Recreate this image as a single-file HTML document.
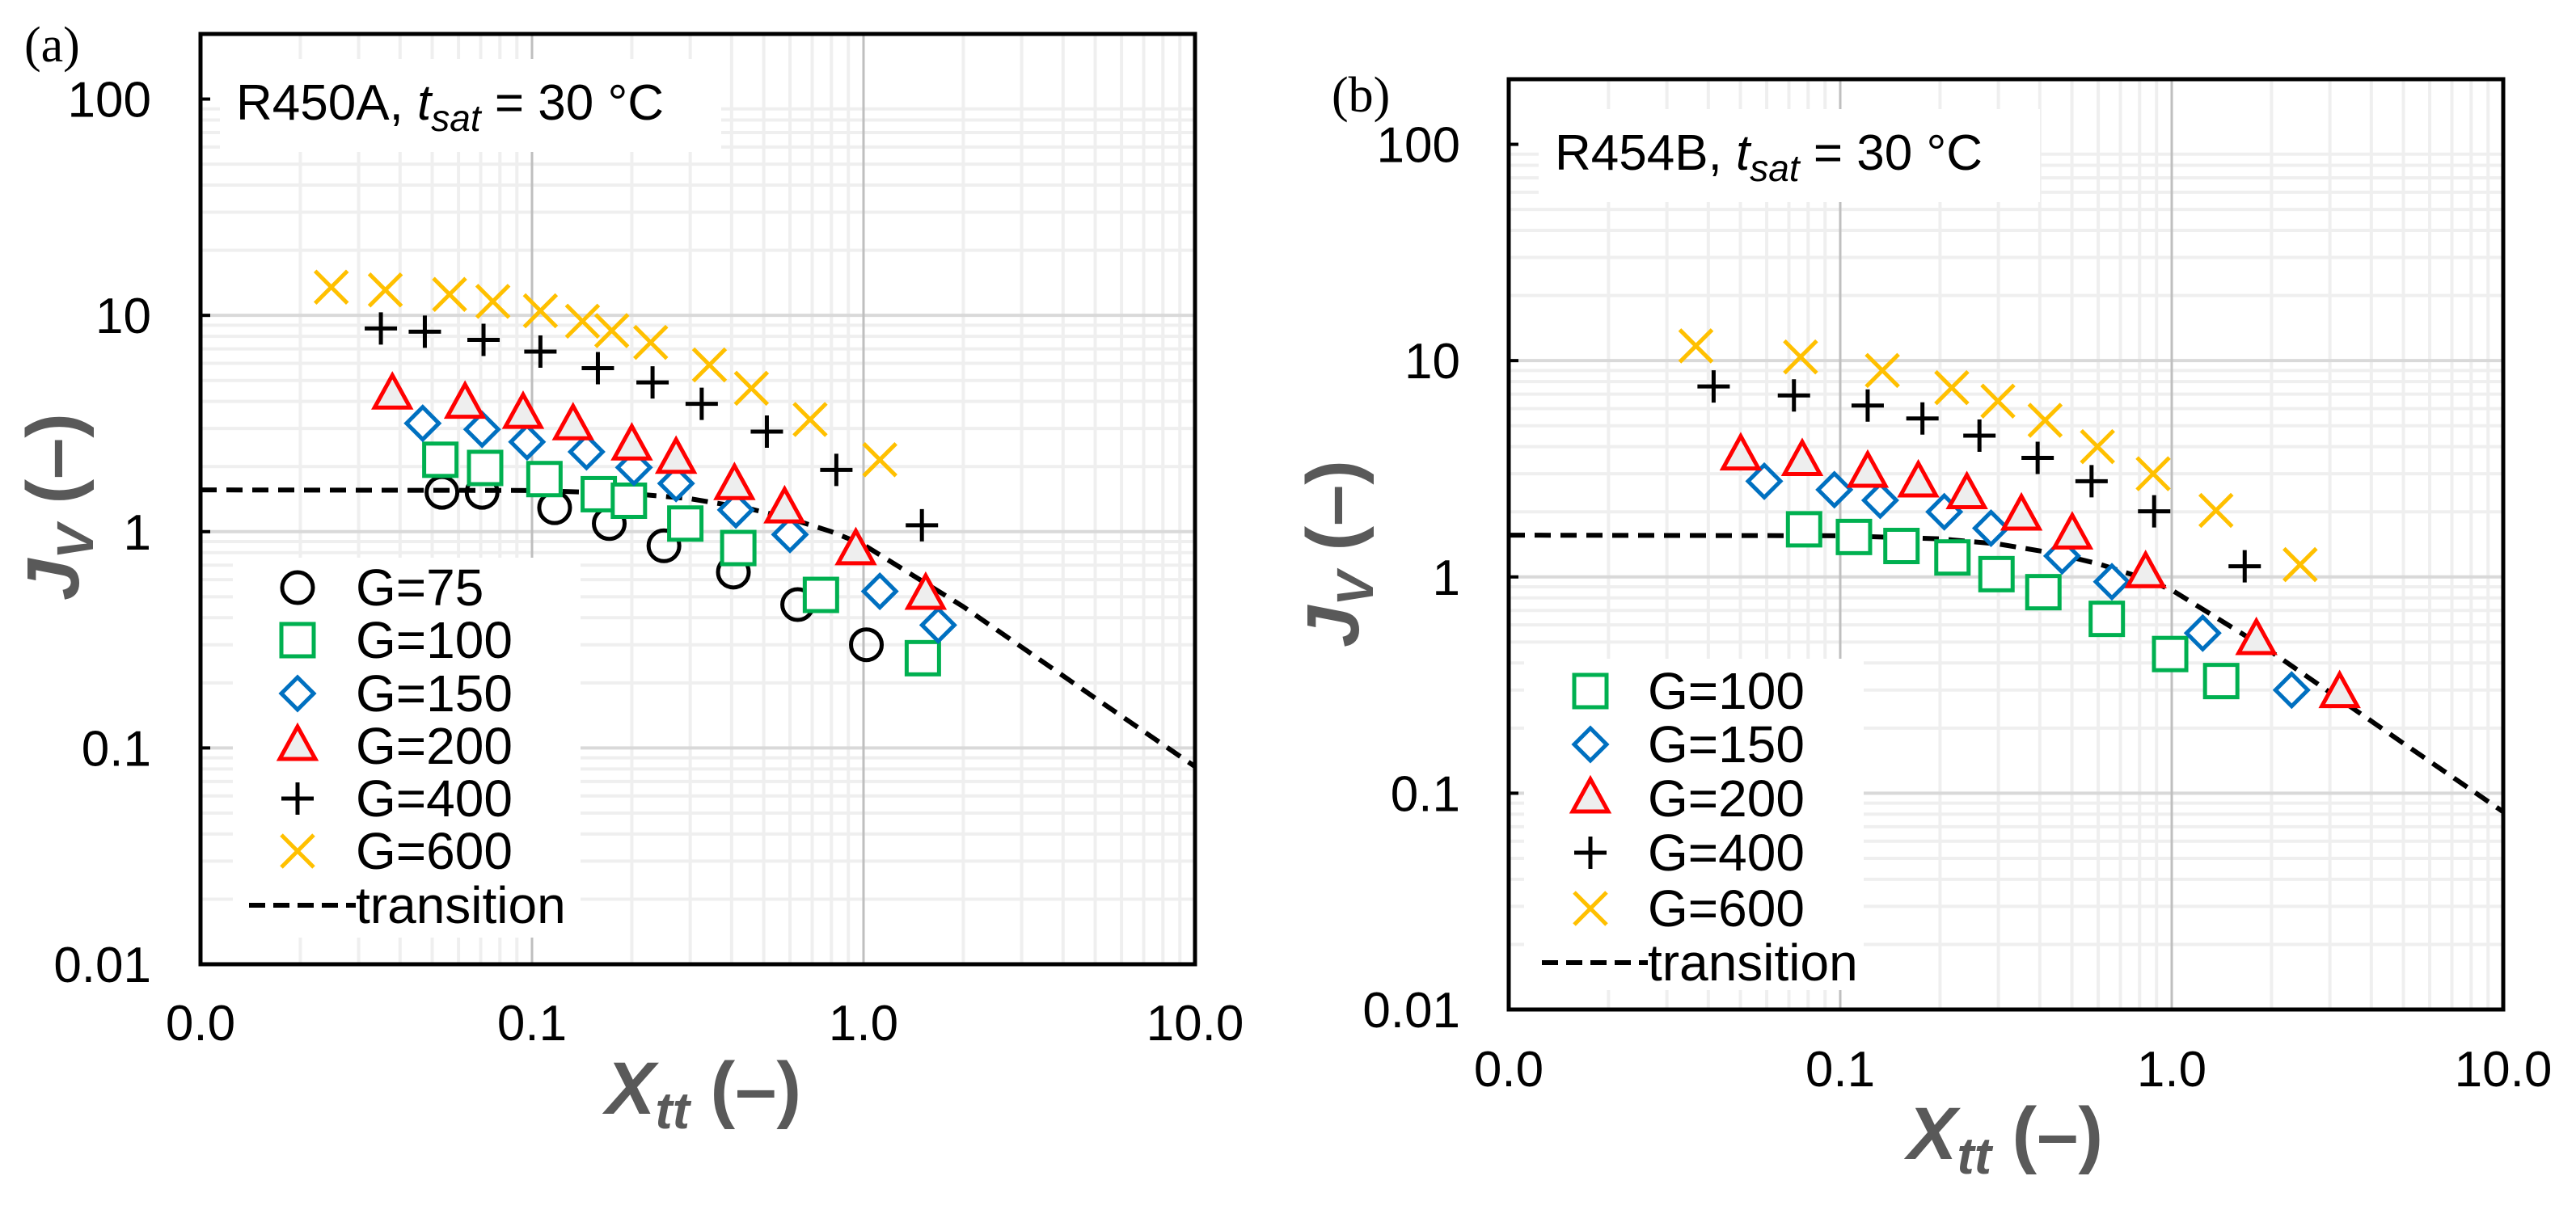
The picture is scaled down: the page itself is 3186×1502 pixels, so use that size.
<!DOCTYPE html>
<html><head><meta charset="utf-8"><style>
html,body{margin:0;padding:0;background:#fff;}
svg{display:block;font-family:"Liberation Sans",Arial,sans-serif;}
</style></head><body>
<svg id="fig" width="3186" height="1502" viewBox="0 0 3186 1502" xmlns="http://www.w3.org/2000/svg"></svg>
<script>
// ---------- data (Xtt, Jv) ----------
const a_G75_x  = [0.0535,0.0707,0.117,0.171,0.250,0.405,0.633,1.02];
const a_G75_y  = [1.52,1.52,1.29,1.09,0.86,0.65,0.46,0.30];
const a_G100_x = [0.0529,0.0722,0.109,0.159,0.196,0.290,0.419,0.744,1.51];
const a_G100_y = [2.15,1.97,1.75,1.49,1.39,1.09,0.84,0.51,0.26];
const a_G150_x = [0.0468,0.0707,0.0966,0.146,0.203,0.272,0.412,0.600,1.12,1.68];
const a_G150_y = [3.17,2.97,2.6,2.34,1.98,1.67,1.26,0.97,0.53,0.37];
const a_G200_x = [0.0379,0.0628,0.094,0.133,0.200,0.272,0.408,0.578,0.948,1.54];
const a_G200_y = [4.3,3.9,3.5,3.1,2.5,2.17,1.64,1.28,0.82,0.51];
const a_G400_x = [0.0350,0.0475,0.0714,0.106,0.158,0.231,0.325,0.511,0.828,1.50];
const a_G400_y = [8.7,8.4,7.7,6.8,5.7,4.9,3.9,2.9,1.93,1.07];
const a_G600_x = [0.0248,0.0361,0.0564,0.0762,0.106,0.142,0.174,0.228,0.343,0.459,0.690,1.12];
const a_G600_y = [13.5,13.1,12.5,11.6,10.5,9.4,8.5,7.5,5.9,4.6,3.3,2.15];

const b_G100_x = [0.0778,0.110,0.153,0.218,0.296,0.410,0.637,0.989,1.41];
const b_G100_y = [1.66,1.53,1.39,1.23,1.03,0.85,0.64,0.44,0.33];
const b_G150_x = [0.059,0.096,0.132,0.206,0.285,0.467,0.660,1.24,2.30];
const b_G150_y = [2.77,2.53,2.26,2.0,1.68,1.25,0.95,0.55,0.30];
const b_G200_x = [0.0501,0.0768,0.121,0.172,0.241,0.352,0.501,0.834,1.80,3.21];
const b_G200_y = [3.64,3.43,3.03,2.73,2.41,1.92,1.57,1.04,0.51,0.29];
const b_G400_x = [0.0415,0.0725,0.121,0.177,0.263,0.394,0.573,0.885,1.66];
const b_G400_y = [7.6,6.9,6.2,5.4,4.5,3.55,2.77,2.01,1.12];
const b_G600_x = [0.0367,0.0759,0.134,0.217,0.299,0.415,0.597,0.879,1.36,2.44];
const b_G600_y = [11.7,10.4,9.0,7.5,6.5,5.3,4.0,3.0,2.03,1.14];

const trans_x = [0.01,0.1,0.2,0.3,0.45,0.6,0.8,1.0,2.0,5.0,10.0];
const trans_y = [1.56,1.55,1.50,1.42,1.28,1.15,1.0,0.87,0.45,0.17,0.082];

const xTickVals = [0.01,0.1,1,10];
const xTickLabels = ["0.0","0.1","1.0","10.0"];
const yTickVals = [100,10,1,0.1,0.01];
const yTickLabels = ["100","10","1","0.1","0.01"];

// ---------- drawing ----------
const NS="http://www.w3.org/2000/svg";
const svg=document.getElementById('fig');
function mk(tag,attrs,parent){const e=document.createElementNS(NS,tag);for(const k in attrs)e.setAttribute(k,attrs[k]);(parent||svg).appendChild(e);return e;}

const panels=[
 {id:'a',L:248,R:1478,T:42,B:1193,label:'(a)',lx:30,ly:76,title:'R450A, ',tx:292,ty:148,
  series:[['G=75','circle',a_G75_x,a_G75_y],['G=100','square',a_G100_x,a_G100_y],['G=150','diamond',a_G150_x,a_G150_y],['G=200','triangle',a_G200_x,a_G200_y],['G=400','plus',a_G400_x,a_G400_y],['G=600','cross',a_G600_x,a_G600_y]],
  leg:{x0:288,y0:690,w:430,h:470,mx:368,tx:440,rows:[727,792,858,923,988,1053],ty:1120},
  ytx:187, xty:1287, xtitle:[870,1378], ytitle:[67,627]},
 {id:'b',L:1866,R:3096,T:98,B:1249,label:'(b)',lx:1647,ly:138,title:'R454B, ',tx:1923,ty:210,
  series:[['G=100','square',b_G100_x,b_G100_y],['G=150','diamond',b_G150_x,b_G150_y],['G=200','triangle',b_G200_x,b_G200_y],['G=400','plus',b_G400_x,b_G400_y],['G=600','cross',b_G600_x,b_G600_y]],
  leg:{x0:1885,y0:815,w:420,h:410,mx:1967,tx:2038,rows:[855,921,988,1055,1124],ty:1191},
  ytx:1806, xty:1344, xtitle:[2480,1434], ytitle:[1650,685]}
];

function marker(g,type,cx,cy){
  const s=20;
  if(type==='circle') return mk('circle',{cx,cy,r:19,fill:'none',stroke:'#000','stroke-width':5},g);
  if(type==='square') return mk('rect',{x:cx-s,y:cy-s,width:2*s,height:2*s,fill:'#fff',stroke:'#00b050','stroke-width':5},g);
  if(type==='diamond') return mk('path',{d:`M${cx} ${cy-20}L${cx+20} ${cy}L${cx} ${cy+20}L${cx-20} ${cy}Z`,fill:'#fff',stroke:'#0070c0','stroke-width':5},g);
  if(type==='triangle') return mk('path',{d:`M${cx} ${cy-24}L${cx+22} ${cy+16}L${cx-22} ${cy+16}Z`,fill:'#eeeeee',stroke:'#ff0000','stroke-width':5},g);
  if(type==='plus') return mk('path',{d:`M${cx-20} ${cy}H${cx+20}M${cx} ${cy-20}V${cy+20}`,fill:'none',stroke:'#000','stroke-width':5},g);
  return mk('path',{d:`M${cx-20} ${cy-20}L${cx+20} ${cy+20}M${cx+20} ${cy-20}L${cx-20} ${cy+20}`,fill:'none',stroke:'#ffc000','stroke-width':5},g);
}

panels.forEach(p=>{
  const xs=v=>p.L+(Math.log10(v)+2)/3*(p.R-p.L);
  const ys=v=>p.B-(Math.log10(v)+2)/Math.log10(20000)*(p.B-p.T);
  const g=mk('g',{});
  
  
  const grid=mk('g',{},g);
  
  
  for(let d=-2;d<1;d++)for(let m=2;m<10;m++){const X=xs(m*Math.pow(10,d));mk('line',{x1:X,x2:X,y1:p.T,y2:p.B,stroke:'#efefef','stroke-width':4},grid);}
  for(let d=-2;d<3;d++)for(let m=2;m<10;m++){const v=m*Math.pow(10,d);if(v>200)continue;const Y=ys(v);mk('line',{x1:p.L,x2:p.R,y1:Y,y2:Y,stroke:'#efefef','stroke-width':4},grid);}
  [10,1,0.1].forEach(v=>{const Y=ys(v);mk('line',{x1:p.L,x2:p.R,y1:Y,y2:Y,stroke:'#d9d9d9','stroke-width':4},grid);});
  [0.1,1].forEach(v=>{const X=xs(v);mk('line',{x1:X,x2:X,y1:p.T,y2:p.B,stroke:'#bfbfbf','stroke-width':3},grid);});
  const tb=mk('rect',{x:p.tx-20,y:p.ty-75,width:620,height:115,fill:'#fff'},g);
  
  
  const tt=mk('text',{x:p.tx,y:p.ty,'font-size':62,fill:'#000'},g);
  
  
  tt.innerHTML=p.title+'<tspan font-style="italic">t</tspan><tspan font-style="italic" font-size="46" dy="14">sat</tspan><tspan dy="-14"> = 30 °C</tspan>';
  const lb=mk('rect',{x:p.leg.x0,y:p.leg.y0,width:p.leg.w,height:p.leg.h,fill:'#fff'},g);
  
  
  const tl=mk('polyline',{points:trans_x.map((v,i)=>xs(v)+','+ys(trans_y[i])).join(' '),fill:'none',stroke:'#000','stroke-width':6,'stroke-dasharray':'20 12'},g);
  
  
  p.series.forEach((s,si)=>{
    const sg=mk('g',{},g);
    
    
    s[2].forEach((xv,i)=>{const m=marker(sg,s[1],xs(xv),ys(s[3][i]));
      
      });
    const le=mk('g',{},g);
    
    
    marker(le,s[1],p.leg.mx,p.leg.rows[si]);
    const t=mk('text',{x:p.leg.tx,y:p.leg.rows[si]+22,'font-size':64,fill:'#000'},le);
    t.textContent=s[0];
  });
  const tle=mk('g',{},g);
  
  
  mk('line',{x1:p.leg.mx-60,x2:p.leg.tx,y1:p.leg.ty,y2:p.leg.ty,stroke:'#000','stroke-width':6,'stroke-dasharray':'20 10'},tle);
  const tt2=mk('text',{x:p.leg.tx,y:p.leg.ty+22,'font-size':64,fill:'#000'},tle);
  tt2.textContent='transition';
  const fr=mk('rect',{x:p.L,y:p.T,width:p.R-p.L,height:p.B-p.T,fill:'none',stroke:'#000','stroke-width':5},g);
  
  
  yTickVals.forEach((v,i)=>{const Y=ys(v);
    mk('line',{x1:p.L,x2:p.L+12,y1:Y,y2:Y,stroke:'#000','stroke-width':4},g);
    const t=mk('text',{x:p.ytx,y:Y+22,'font-size':62,'text-anchor':'end',fill:'#000'},g);
    
    
    t.textContent=yTickLabels[i];});
  xTickVals.forEach((v,i)=>{const X=xs(v);
    const t=mk('text',{x:X,y:p.xty,'font-size':62,'text-anchor':'middle',fill:'#000'},g);
    
    
    t.textContent=xTickLabels[i];});
  const xt=mk('text',{x:p.xtitle[0],y:p.xtitle[1],'font-size':92,'font-weight':'bold',fill:'#595959','text-anchor':'middle'},g);
  
  
  xt.innerHTML='<tspan font-style="italic">X</tspan><tspan font-style="italic" font-size="64" dy="18">tt</tspan><tspan dy="-18"> (–)</tspan>';
  const yt=mk('text',{x:0,y:0,'font-size':92,'font-weight':'bold',fill:'#595959','text-anchor':'middle',transform:`translate(${p.ytitle[0]+30},${p.ytitle[1]}) rotate(-90)`},g);
  
  
  yt.innerHTML='<tspan font-style="italic">J</tspan><tspan font-style="italic" font-size="64" dy="18">V</tspan><tspan dy="-18"> (–)</tspan>';
  const pl=mk('text',{x:p.lx,y:p.ly,'font-size':62,fill:'#000','font-family':'Liberation Serif, serif'},g);
  
  
  pl.textContent=p.label;
});
</script>
</body></html>
